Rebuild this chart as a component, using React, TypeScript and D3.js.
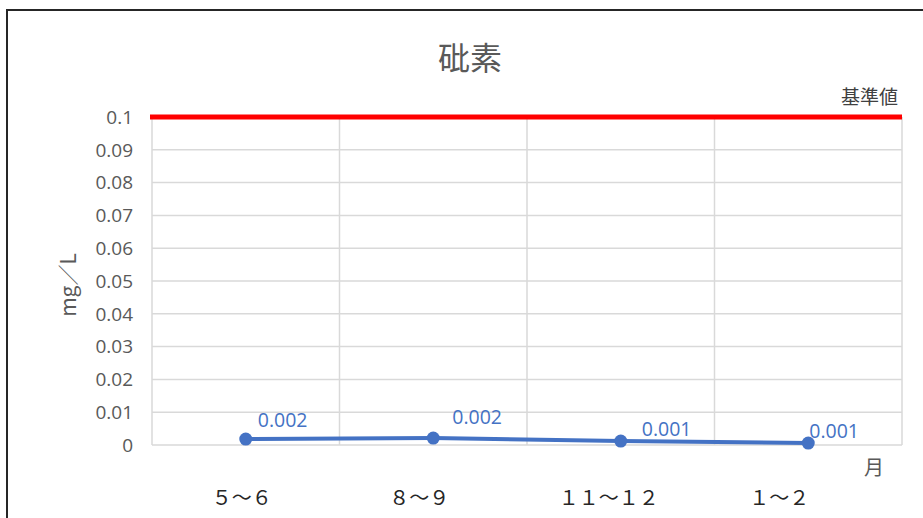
import { useMemo } from 'react'
import { scaleBand, scaleLinear, line } from 'd3'

// 測定期間（月）
const PERIODS = ['５～６', '８～９', '１１～１２', '１～２']
// 砒素 測定値 (mg/L)
const VALUES = [0.0018, 0.0021, 0.0012, 0.0006]
const LABELS = ['0.002', '0.002', '0.001', '0.001']
const Y_TICKS = [0, 0.01, 0.02, 0.03, 0.04, 0.05, 0.06, 0.07, 0.08, 0.09, 0.1]
const STANDARD = 0.1

const W = 923
const H = 518
const L = 152
const R = 902
const T = 117
const B = 445

// data-label nudges (Excel places them slightly differently per point)
const LABEL_DX = [12, 19, 21, 1]
const LABEL_DY = [-12, -14, -5, -5]
// category labels sit left of the band centre (trailing spaces in the source)
const CAT_DX = [-4, -14, -12, -29]

const JP = '"Noto Sans CJK JP", "Noto Sans", sans-serif'
const NUM = '"Open Sans", "Noto Sans", sans-serif'

export default function App() {
  const { x, y } = useMemo(
    () => ({
      x: scaleBand<string>().domain(PERIODS).range([L, R]),
      y: scaleLinear().domain([0, 0.1]).range([B, T]),
    }),
    []
  )

  const cx = (p: string) => (x(p) ?? 0) + x.bandwidth() / 2
  const path = line<number>()
    .x((_, i) => cx(PERIODS[i]))
    .y((v) => y(v))(VALUES)

  const gridX = [...PERIODS.map((p) => x(p) ?? 0), R]

  return (
    <svg
      width={W}
      height={H}
      viewBox={`0 0 ${W} ${H}`}
      style={{ position: 'absolute', left: 0, top: 0, background: '#fff' }}
    >
      <rect x={7} y={10} width={W + 20} height={H + 20} fill="#fff" stroke="#262626" strokeWidth={2} />

      <text x={470} y={70} textAnchor="middle" fontFamily={JP} fontSize={32} fill="#595959">
        砒素
      </text>

      {Y_TICKS.map((t) => (
        <line key={'h' + t} x1={L} x2={R} y1={y(t)} y2={y(t)} stroke="#d9d9d9" strokeWidth={1.5} />
      ))}
      {gridX.map((gx, i) => (
        <line key={'v' + i} x1={gx} x2={gx} y1={T} y2={B} stroke="#d9d9d9" strokeWidth={1.5} />
      ))}

      {Y_TICKS.map((t) => (
        <text
          key={'t' + t}
          x={133}
          y={y(t)}
          dy="0.36em"
          textAnchor="end"
          fontFamily={NUM}
          fontSize={19}
          fill="#595959"
        >
          {String(t)}
        </text>
      ))}

      <text
        transform={`translate(76 ${285}) rotate(-90)`}
        textAnchor="middle"
        fontFamily={JP}
        fontSize={21}
        fill="#595959"
      >
        mg／L
      </text>

      {PERIODS.map((p, i) => (
        <text
          key={p}
          x={cx(p) + CAT_DX[i]}
          y={505}
          textAnchor="middle"
          fontFamily={JP}
          fontSize={20}
          fill="#262626"
        >
          {p}
        </text>
      ))}

      <text x={874} y={475} textAnchor="middle" fontFamily={JP} fontSize={20} fill="#595959">
        月
      </text>

      <line x1={150} x2={R} y1={y(STANDARD)} y2={y(STANDARD)} stroke="#ff0000" strokeWidth={5} />
      <text x={898} y={104} textAnchor="end" fontFamily={JP} fontSize={19} fill="#404040">
        基準値
      </text>

      <path d={path ?? ''} fill="none" stroke="#4472c4" strokeWidth={4} strokeLinejoin="round" />
      {VALUES.map((v, i) => (
        <circle key={'c' + i} cx={cx(PERIODS[i])} cy={y(v)} r={6.5} fill="#4472c4" />
      ))}
      {VALUES.map((v, i) => (
        <text
          key={'l' + i}
          x={cx(PERIODS[i]) + LABEL_DX[i]}
          y={y(v) + LABEL_DY[i]}
          fontFamily={NUM}
          fontSize={19.5}
          fill="#4472c4"
        >
          {LABELS[i]}
        </text>
      ))}
    </svg>
  )
}
